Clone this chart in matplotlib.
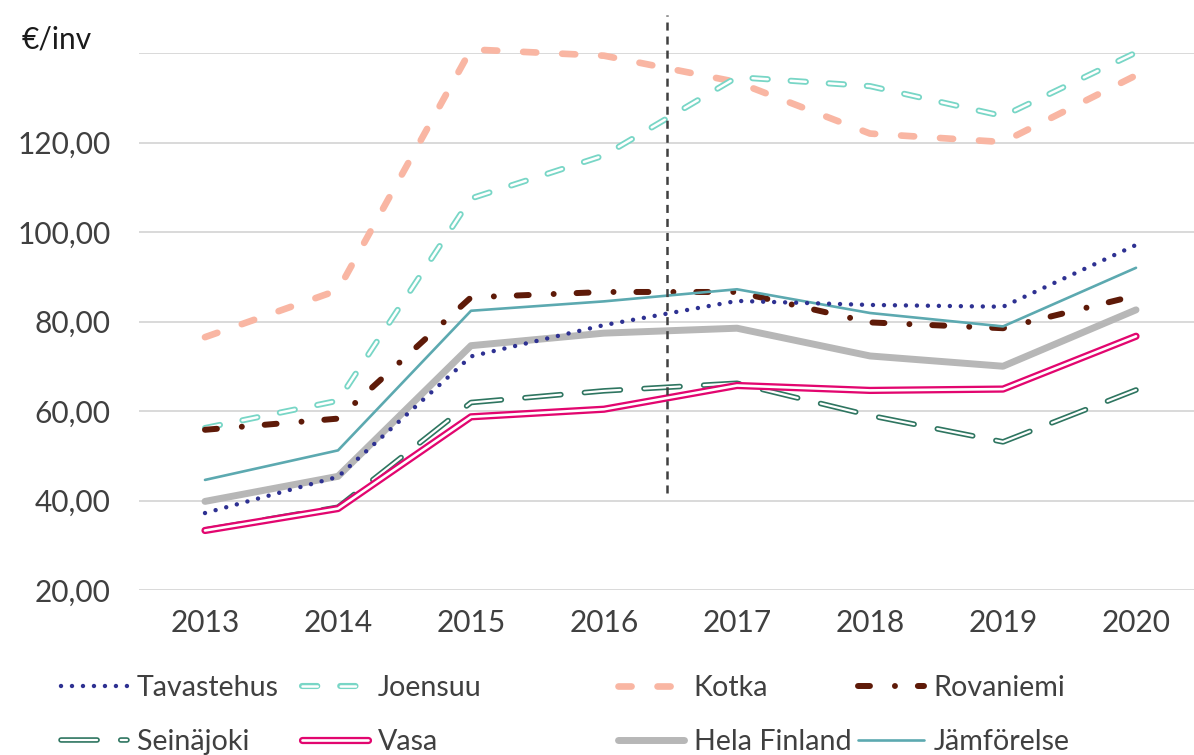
import matplotlib
matplotlib.use("Agg")
import matplotlib.pyplot as plt
import matplotlib.patheffects as pe

plt.rcParams['font.family'] = ['Lato', 'DejaVu Sans']
plt.rcParams['lines.scale_dashes'] = False

years = [2013, 2014, 2015, 2016, 2017, 2018, 2019, 2020]
tavastehus = [37.2, 45.3, 72.2, 79.2, 84.6, 83.7, 83.3, 97.1]
joensuu = [56.2, 62.3, 107.5, 117.1, 134.6, 132.6, 125.9, 140.1]
kotka = [76.5, 87.0, 140.8, 139.4, 133.5, 122.0, 120.1, 135.0]
rovaniemi = [55.8, 58.3, 85.4, 86.6, 86.6, 79.8, 78.5, 85.8]
seinajoki = [33.4, 38.5, 61.9, 64.5, 66.2, 59.0, 53.1, 64.7]
vasa = [33.3, 38.2, 58.7, 60.4, 65.7, 64.6, 64.9, 76.7]
hela_finland = [39.8, 45.4, 74.6, 77.4, 78.5, 72.3, 70.0, 82.6]
jamforelse = [44.6, 51.2, 82.4, 84.5, 87.2, 81.9, 78.9, 92.0]

y_ticks = [20, 40, 60, 80, 100, 120, 140]
y_tick_labels = ["20,00", "40,00", "60,00", "80,00", "100,00", "120,00", ""]
y_unit = "€/inv"
divider_year = 2016.47
divider_span = (41.7, 148.6)

W, H = 1194, 755
fig = plt.figure(figsize=(W / 100, H / 100), dpi=100)
ax = fig.add_axes([138.5 / W, 1 - 590 / H, (1202.5 - 138.5) / W, (590 - 53) / H])
ax.set_xlim(2012.5, 2020.5)
ax.set_ylim(20, 140)

for s in ax.spines.values():
    s.set_visible(False)
ax.set_yticks(y_ticks)
ax.set_yticklabels(y_tick_labels)
ax.set_xticks(years)
ax.set_xticklabels([str(y) for y in years])
ax.tick_params(axis='both', length=0, labelsize=21.5, labelcolor='#404040')
ax.tick_params(axis='y', pad=20)
ax.tick_params(axis='x', pad=14)
ax.grid(axis='y', color='#d9d9d9', linewidth=1.4)
ax.set_axisbelow(True)

def double(color, outer):
    return [pe.Stroke(linewidth=outer, foreground=color), pe.Normal()]

lines = {}
lines['Hela Finland'] = ax.plot(years, hela_finland, color='#b7b7b7', lw=5.0,
                                solid_capstyle='round', solid_joinstyle='round',
                                clip_on=False, zorder=2)[0]
lines['Kotka'] = ax.plot(years, kotka, color='#f9b6a3', lw=4.8,
                         linestyle=(0, (9.4, 18.7)), dash_capstyle='round',
                         clip_on=False, zorder=3)[0]
lines['Joensuu'] = ax.plot(years, joensuu, color='white', lw=1.8,
                           linestyle=(0, (11, 16.5)), dash_capstyle='round',
                           path_effects=double('#78d6c6', 4.4),
                           clip_on=False, zorder=4)[0]
lines['Seinäjoki'] = ax.plot(years, seinajoki, color='white', lw=1.6,
                             linestyle=(0, (26, 17)), dash_capstyle='round',
                             path_effects=double('#2e7560', 4.0),
                             clip_on=False, zorder=5)[0]
lines['Vasa'] = ax.plot(years, vasa, color='white', lw=1.9,
                        solid_capstyle='round', solid_joinstyle='round',
                        path_effects=double('#e2066f', 5.2),
                        clip_on=False, zorder=6)[0]
lines['Rovaniemi'] = ax.plot(years, rovaniemi, color='#5e1a08', lw=4.3,
                             linestyle=(0, (8.6, 18, 0.01, 16.5)), dash_capstyle='round',
                             clip_on=False, zorder=7)[0]
lines['Jämförelse'] = ax.plot(years, jamforelse, color='#5ca9b0', lw=1.9,
                              solid_capstyle='round', clip_on=False, zorder=8)[0]
lines['Tavastehus'] = ax.plot(years, tavastehus, color='#2e3192', lw=3.2,
                              linestyle=(0, (0.01, 7.9)), dash_capstyle='round',
                              clip_on=False, zorder=9)[0]

ax.plot([divider_year, divider_year], divider_span, color='#404040', lw=1.8,
        linestyle=(0, (5.8, 4.3)), dash_capstyle='butt', clip_on=False, zorder=10)

fig.text(22 / W, 1 - 49 / H, y_unit, fontsize=21.5, color='#1a1a1a', ha='left', va='baseline')

columns = [
    (61, ['Tavastehus', 'Seinäjoki']),
    (302, ['Joensuu', 'Vasa']),
    (618, ['Kotka', 'Hela Finland']),
    (858, ['Rovaniemi', 'Jämförelse']),
]
for x0, names in columns:
    leg = fig.legend([lines[n] for n in names], names, loc='center left',
                     bbox_to_anchor=(x0 / W, 1 - 715 / H), frameon=False,
                     fontsize=20.6, labelcolor='#404040', handlelength=2.3,
                     handletextpad=0.35, borderpad=0, borderaxespad=0,
                     labelspacing=1.0)

fig.savefig('out.png', dpi=100)
